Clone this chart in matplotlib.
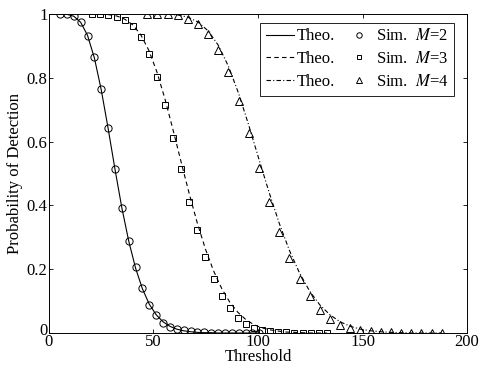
import numpy as np
import matplotlib
matplotlib.use("Agg")
import matplotlib.pyplot as plt
import matplotlib.transforms as mtransforms

# -----------------------------------------
# Datos
# -----------------------------------------
umbral_m2 = np.linspace(5.3, 100.6, 30)
sim_m2 = [1.0, 1.0, 0.994, 0.975, 0.932, 0.864, 0.765, 0.643, 0.514, 0.391,
          0.288, 0.206, 0.140, 0.088, 0.056, 0.032, 0.020, 0.012, 0.008, 0.005,
          0.003, 0.002, 0.001, 0.001, 0.0, 0.0, 0.0, 0.0, 0.0, 0.0]
teo_m2 = [1.0, 0.999, 0.993, 0.974, 0.933, 0.862, 0.762, 0.641, 0.513, 0.392,
          0.288, 0.203, 0.138, 0.090, 0.057, 0.035, 0.021, 0.012, 0.007, 0.004,
          0.002, 0.001, 0.001, 0.0, 0.0, 0.0, 0.0, 0.0, 0.0, 0.0]

umbral_m3 = np.linspace(20.7, 132.9, 30)
sim_m3 = [1.0, 1.0, 0.998, 0.992, 0.981, 0.962, 0.929, 0.875, 0.801, 0.714,
          0.611, 0.514, 0.412, 0.323, 0.237, 0.169, 0.115, 0.077, 0.048, 0.027,
          0.017, 0.010, 0.006, 0.004, 0.002, 0.001, 0.0, 0.0, 0.0, 0.0]
teo_m3 = [1.0, 1.0, 0.998, 0.994, 0.984, 0.966, 0.935, 0.886, 0.818, 0.733,
          0.636, 0.535, 0.436, 0.344, 0.263, 0.195, 0.140, 0.097, 0.065, 0.042,
          0.026, 0.016, 0.010, 0.006, 0.003, 0.002, 0.001, 0.0, 0.0, 0.0]

umbral_m4 = np.linspace(47.0, 187.9, 30)
sim_m4 = [1.0, 1.0, 1.0, 0.996, 0.985, 0.969, 0.937, 0.888, 0.819, 0.728,
          0.628, 0.518, 0.412, 0.316, 0.236, 0.168, 0.116, 0.072, 0.044, 0.025,
          0.015, 0.008, 0.005, 0.003, 0.002, 0.001, 0.0, 0.0, 0.0, 0.0]
teo_m4 = [1.0, 1.0, 0.999, 0.997, 0.990, 0.975, 0.947, 0.902, 0.836, 0.751,
          0.651, 0.545, 0.441, 0.344, 0.259, 0.188, 0.131, 0.088, 0.057, 0.035,
          0.021, 0.012, 0.007, 0.004, 0.002, 0.001, 0.0, 0.0, 0.0, 0.0]

etiquetas_y = ["0", "0.2", "0.4", "0.6", "0.8", "1"]
ticks_y = [0, 0.2, 0.4, 0.6, 0.8, 1.0]
ticks_x = [0, 50, 100, 150, 200]

# -----------------------------------------
# Estilo
# -----------------------------------------
plt.rcParams["font.family"] = ["Liberation Serif", "DejaVu Serif"]
plt.rcParams["mathtext.fontset"] = "stix"
plt.rcParams["font.size"] = 12

fig = plt.figure(figsize=(4.83, 3.72), dpi=100)
ax = fig.add_axes([0.1014, 0.1048, 0.8655, 0.8576])

estilo_sim = dict(linestyle="none", markerfacecolor="none",
                  markeredgecolor="black", markeredgewidth=0.7)

l1, = ax.plot(umbral_m2, teo_m2, "k-", linewidth=0.8)
l2, = ax.plot(umbral_m3, teo_m3, "k--", linewidth=0.8, dashes=(4, 3))
l3, = ax.plot(umbral_m4, teo_m4, "k-.", linewidth=0.8, dashes=(4, 2, 1, 2))
s1, = ax.plot(umbral_m2, sim_m2, marker="o", markersize=5.2, **estilo_sim)
s2, = ax.plot(umbral_m3, sim_m3, marker="s", markersize=4.2, **estilo_sim)
s3, = ax.plot(umbral_m4, sim_m4, marker="^", markersize=5.6, **estilo_sim)

ax.set_xlim(0, 200)
ax.set_ylim(0, 1)
ax.set_xticks(ticks_x)
ax.set_yticks(ticks_y)
ax.set_yticklabels(etiquetas_y)
ax.tick_params(direction="in", top=True, right=True, length=3, width=0.6, pad=1)
ax.tick_params(axis="x", pad=1)
for lado in ax.spines.values():
    lado.set_linewidth(0.7)

# el "0" del eje y un poco mas arriba para que no pise al "0" del eje x
desplazamiento = mtransforms.ScaledTranslation(0, 3 / 72, fig.dpi_scale_trans)
cero_y = ax.get_yticklabels()[0]
cero_y.set_transform(cero_y.get_transform() + desplazamiento)

ax.set_xlabel("Threshold", labelpad=-1)
ax.set_ylabel("Probability of Detection", labelpad=3)

leyenda = ax.legend([l1, l2, l3, s1, s2, s3],
                    ["Theo.", "Theo.", "Theo.",
                     "Sim.  $M$=2", "Sim.  $M$=3", "Sim.  $M$=4"],
                    ncol=2, loc="upper right", bbox_to_anchor=(0.97, 0.973),
                    fancybox=False, edgecolor="black", framealpha=1,
                    handlelength=1.7, handletextpad=0.15, columnspacing=0.6,
                    labelspacing=0.4, borderpad=0.35, borderaxespad=0,
                    markerscale=0.75, fontsize=12)
leyenda.get_frame().set_linewidth(0.6)

fig.savefig("out.png", dpi=100)
